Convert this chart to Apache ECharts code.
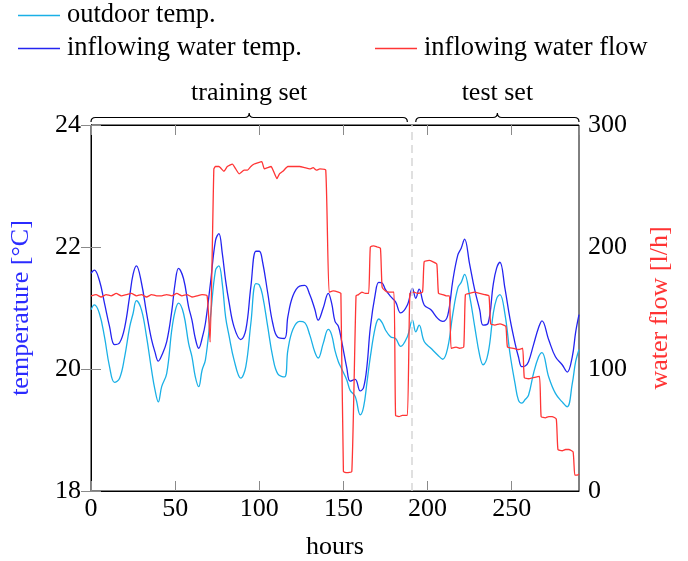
<!DOCTYPE html>
<html><head><meta charset="utf-8">
<script src="https://cdn.jsdelivr.net/npm/echarts@6/dist/echarts.min.js"></script>
<style>html,body{margin:0;padding:0;background:#fff}#c{width:688px;height:561px}</style>
</head><body><div id="c"></div>
<script>
const hoursT = [0,2,5,8,11,14,17,20,23,25,27,30,33,36,38,40,42,45,48,50,52,55,58,60,62,64,66,68,71,74,76,78,80,82,85,89,92,95,98,100,102,105,108,111,115,117,120,124,127,130,133,135,138,141,143,145,147,149,152,154,157,160,162,164,166,169,171,173,175,178,181,184,188,191,193,195,198,202,206,209,212,215,218,220,222,225,228,231,233,236,239,241,243,246,249,252,254,256,258,260,263,266,268,272,276,280,283,286,288,290];
const waterTemp = [21.57,21.62,21.45,21.08,20.70,20.40,20.43,20.68,21.20,21.55,21.69,21.41,20.92,20.48,20.28,20.13,20.22,20.45,20.95,21.41,21.65,21.48,21.02,20.80,20.50,20.34,20.50,20.75,21.41,22.11,22.22,21.90,21.45,21.10,20.69,20.48,20.64,21.35,21.93,21.93,21.75,21.25,20.75,20.52,20.50,20.86,21.20,21.36,21.37,21.22,20.98,20.80,21.00,21.24,21.08,20.78,20.70,20.45,20.02,19.80,19.83,19.64,19.70,20.05,20.68,21.24,21.42,21.41,21.30,21.19,21.10,20.92,21.05,21.32,21.16,21.31,21.05,20.97,20.83,20.78,20.88,21.45,21.87,21.98,22.13,21.72,21.30,20.97,20.72,20.75,21.38,21.65,21.75,21.32,20.82,20.42,20.20,20.04,20.05,20.12,20.40,20.68,20.79,20.48,20.20,20.07,19.95,20.20,20.60,20.89];
const outdoorTemp = [20.97,21.05,20.91,20.53,20.04,19.78,19.85,20.20,20.69,20.91,21.12,20.97,20.53,19.98,19.66,19.46,19.71,19.93,20.64,20.95,21.08,20.91,20.42,20.20,19.87,19.71,19.98,20.15,20.86,21.62,21.69,21.40,20.85,20.55,20.15,19.85,20.04,20.75,21.40,21.38,21.20,20.70,20.20,19.92,19.87,20.31,20.65,20.78,20.76,20.56,20.28,20.18,20.42,20.65,20.56,20.30,20.12,20.00,19.82,19.65,19.55,19.25,19.38,19.78,20.20,20.69,20.82,20.76,20.64,20.53,20.50,20.37,20.53,20.80,20.61,20.72,20.45,20.34,20.23,20.16,20.35,20.90,21.33,21.42,21.55,21.20,20.70,20.22,20.07,20.26,20.90,21.15,21.22,20.90,20.25,19.76,19.49,19.44,19.50,19.57,19.93,20.20,20.27,19.87,19.60,19.46,19.38,19.76,20.12,20.32];
const hoursFlow = [0,3,6,9,12,15,18,21,24,27,30,33,36,39,42,45,48,51,54,57,60,63,66,69,70.8,73,74,76,79,81,84,86,88,91,93,95,97,99,101.5,103,105,107,108.5,110.5,112,114,117,120,124,127,130,132,134,136,139.5,141.5,144,147,148.5,150,152,155,157.5,159,161,163,165,166,168,170,172,173,175,177,180,181,183,185,188,189.5,192,194,197,198,201,203,205.5,206.5,209,211,213,214,217,219,221.5,222.5,225,228,231,234,236.5,237.5,240,243,246.5,247.5,251,254,256.5,257.5,260,263,266.5,267.5,270,272,274,276.5,277.5,280,282,284,286.5,287.5,289,290];
const waterFlow = [160,161,159,161,160,162,160,161,162,160,161,159,161,160,160,161,160,162,160,161,159,160,161,160,122,264,266,266,262,266,268,264,260,263,263,266,268,269,270,264,265,266,262,256,260,262,266,266,266,265,264,265,263,264,263,163,164,163,162,16,15,16,160,161,163,162,162,200,201,200,199,167,164,163,163,62,61,62,62,162,163,162,163,188,189,188,186,162,161,160,160,117,118,117,118,161,162,163,162,161,160,137,136,137,135,118,117,116,117,93,92,93,94,61,60,61,61,59,34,33,34,34,32,13,13,14];
const splitHour = 190.5;
const braceStart = [0, 193];
const braceEnd = [188, 290];
const braceLabels = ['training set', 'test set'];

const FONT = 'Liberation Serif';
const FS = 26;
const pairs = (xs, ys) => xs.map((x, i) => [x, ys[i]]);
const chart = echarts.init(document.getElementById('c'), null, {renderer: 'canvas'});
const tickStyle = {inside: true, length: 10, lineStyle: {color: '#8a8a8a', width: 1}};
const lblStyle = {fontSize: FS, color: '#000', fontFamily: FONT};
const legText = {fontSize: 26.5, color: '#000', fontFamily: FONT, padding: [0, 0, 0, 2]};
chart.setOption({
  animation: false,
  textStyle: {fontFamily: FONT},
  grid: {left: 91, right: 109, top: 125, bottom: 70, show: true, borderColor: '#000', borderWidth: 1,
         containLabel: false, outerBoundsMode: 'none'},
  legend: [
    {data: ['outdoor temp.', 'inflowing water temp.'], orient: 'vertical', left: 18, top: 2, padding: 0, itemGap: 6,
     icon: 'rect', itemWidth: 42, itemHeight: 1.4, textStyle: legText},
    {data: ['inflowing water flow'], orient: 'horizontal', left: 375, top: 35, padding: 0,
     icon: 'rect', itemWidth: 42, itemHeight: 1.4, textStyle: legText}
  ],
  xAxis: [
    {type: 'value', min: 0, max: 290, interval: 50, position: 'bottom', name: 'hours', nameLocation: 'middle',
     nameGap: 43, nameTextStyle: lblStyle, axisLine: {show: true, lineStyle: {color: '#000'}},
     axisTick: tickStyle, axisLabel: Object.assign({showMaxLabel: false, margin: 5}, lblStyle), splitLine: {show: false}},
    {type: 'value', min: 0, max: 290, interval: 50, position: 'top', axisLine: {show: true, lineStyle: {color: '#000'}},
     axisTick: tickStyle, axisLabel: {show: false}, splitLine: {show: false}}
  ],
  yAxis: [
    {type: 'value', min: 18, max: 24, interval: 2, position: 'left', name: 'temperature [°C]', nameLocation: 'middle',
     nameGap: 57, nameRotate: 90, nameTextStyle: Object.assign({}, lblStyle, {color: '#2b2bff'}),
     axisLine: {show: true, lineStyle: {color: '#000'}}, axisTick: tickStyle,
     axisLabel: Object.assign({margin: 10}, lblStyle), splitLine: {show: false}},
    {type: 'value', min: 0, max: 300, interval: 100, position: 'right', name: 'water flow [l/h]', nameLocation: 'middle',
     nameGap: 68, nameRotate: 90, nameTextStyle: Object.assign({}, lblStyle, {color: '#ff3333'}),
     axisLine: {show: true, lineStyle: {color: '#000'}}, axisTick: tickStyle,
     axisLabel: Object.assign({margin: 9}, lblStyle), splitLine: {show: false}}
  ],
  series: [
    {name: 'outdoor temp.', type: 'line', xAxisIndex: 0, yAxisIndex: 0, data: pairs(hoursT, outdoorTemp),
     symbol: 'none', smooth: 0.4, lineStyle: {color: '#1ab0e6', width: 1.3}, itemStyle: {color: '#1ab0e6'},
     markLine: {silent: true, symbol: ['none', 'none'], label: {show: false},
       lineStyle: {color: '#d6d6d6', type: [8, 5], width: 1.5}, data: [{xAxis: splitHour}]}},
    {name: 'inflowing water temp.', type: 'line', xAxisIndex: 0, yAxisIndex: 0, data: pairs(hoursT, waterTemp),
     symbol: 'none', smooth: 0.4, lineStyle: {color: '#2424f0', width: 1.3}, itemStyle: {color: '#2424f0'}},
    {name: 'inflowing water flow', type: 'line', xAxisIndex: 0, yAxisIndex: 1, data: pairs(hoursFlow, waterFlow),
     symbol: 'none', smooth: 0.15, lineStyle: {color: '#ff3535', width: 1.3}, itemStyle: {color: '#ff3535'}},
    {type: 'custom', xAxisIndex: 0, yAxisIndex: 0, silent: true, clip: false, z: 5,
     data: braceStart.map((s, i) => [s, braceEnd[i], i]),
     encode: {x: [0, 1]},
     renderItem: function (params, api) {
       const a = api.coord([api.value(0), 24]);
       const b = api.coord([api.value(1), 24]);
       const x1 = a[0], x2 = b[0], xm = (x1 + x2) / 2, y0 = a[1] - 3, r = 4.5, yh = y0 - r, yc = y0 - 2 * r;
       const d = 'M' + x1 + ',' + y0 + 'Q' + x1 + ',' + yh + ' ' + (x1 + r) + ',' + yh +
                 'L' + (xm - r) + ',' + yh + 'Q' + xm + ',' + yh + ' ' + xm + ',' + yc +
                 'Q' + xm + ',' + yh + ' ' + (xm + r) + ',' + yh +
                 'L' + (x2 - r) + ',' + yh + 'Q' + x2 + ',' + yh + ' ' + x2 + ',' + y0;
       return {type: 'group', children: [
         {type: 'path', shape: {pathData: d}, style: {stroke: '#000', fill: null, lineWidth: 1.2}},
         {type: 'text', style: {text: braceLabels[api.value(2)], x: xm, y: yc - 20,
           align: 'center', verticalAlign: 'middle', textAlign: 'center', textVerticalAlign: 'middle',
           font: FS + 'px "' + FONT + '"', fill: '#000'}}
       ]};
     }}
  ]
});
</script></body></html>
